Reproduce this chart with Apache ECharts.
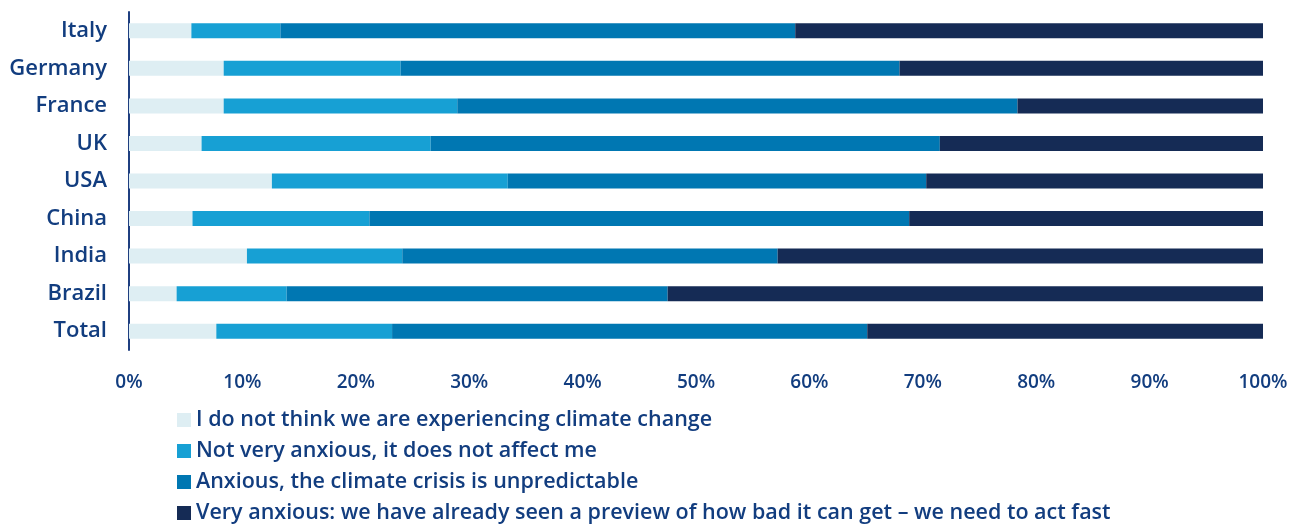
<!DOCTYPE html>
<html><head><meta charset="utf-8">
<script src="https://cdn.jsdelivr.net/npm/echarts@6/dist/echarts.min.js"></script>
<style>html,body{margin:0;padding:0;background:#fff}#c{width:1294px;height:525px}</style>
</head><body><div id="c"></div>
<script>
const categories = ["Italy","Germany","France","UK","USA","China","India","Brazil","Total"];
const seriesNames = [
  "I do not think we are experiencing climate change",
  "Not very anxious, it does not affect me",
  "Anxious, the climate crisis is unpredictable",
  "Very anxious: we have already seen a preview of how bad it can get \u2013 we need to act fast"
];
const notExperiencing = [5.5, 8.35, 8.35, 6.4, 12.6, 5.6, 10.4, 4.2, 7.7];
const notAnxious     = [7.85, 15.6, 20.6, 20.2, 20.8, 15.6, 13.7, 9.7, 15.5];
const anxious        = [45.4, 44.0, 49.4, 44.9, 36.9, 47.6, 33.1, 33.6, 41.9];
const veryAnxious    = [41.25, 32.05, 21.65, 28.5, 29.7, 31.2, 42.8, 52.5, 34.9];
const colors = ["#deeef3", "#17a0d4", "#0077b2", "#152b55"];
const textColor = "#123d7f";
const font = "Open Sans";

const chart = echarts.init(document.getElementById('c'));
const dataSets = [notExperiencing, notAnxious, anxious, veryAnxious];
chart.setOption({
  animation: false,
  color: colors,
  grid: { left: 129, right: 31, top: 12, bottom: 175, containLabel: false },
  xAxis: {
    type: 'value', min: 0, max: 100, interval: 10,
    axisLabel: { formatter: '{value}%', color: textColor, fontFamily: font, fontWeight: 600, fontSize: 19, margin: 23 },
    splitLine: { show: false }, axisLine: { show: false }, axisTick: { show: false }
  },
  yAxis: {
    type: 'category', data: categories, inverse: true,
    axisLine: { show: true, lineStyle: { color: '#1f3f80', width: 2 } },
    axisTick: { show: false },
    axisLabel: { color: textColor, fontFamily: font, fontWeight: 600, fontSize: 22, margin: 22 }
  },
  legend: {
    orient: 'vertical', left: 177, top: 409, height: 200, itemGap: 9, padding: 0,
    itemWidth: 14, itemHeight: 14, icon: 'rect', itemStyle: { borderWidth: 0 },
    textStyle: { color: textColor, fontFamily: font, fontWeight: 600, fontSize: 21.5 },
    data: seriesNames
  },
  series: seriesNames.map((n, i) => ({
    name: n, type: 'bar', stack: 'total', barWidth: 15,
    data: dataSets[i],
    itemStyle: { color: colors[i] }
  }))
});
</script></body></html>
